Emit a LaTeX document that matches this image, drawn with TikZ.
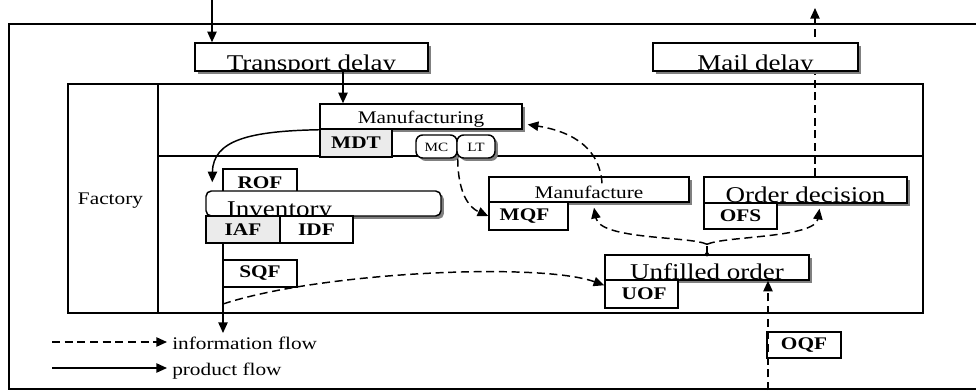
\documentclass[tikz,border=0pt]{standalone}
\usepackage{fontspec}
\setmainfont{Liberation Serif}[FakeStretch=1.2]
\usetikzlibrary{arrows.meta,fit,shadows,backgrounds}
\newcommand{\fBig}{\fontsize{16.9}{18}\selectfont}
\newcommand{\fMed}{\fontsize{13.3}{15}\selectfont}
\newcommand{\fLbl}{\fontsize{13.3}{15}\selectfont\bfseries}
\newcommand{\fSml}{\fontsize{9.5}{10}\selectfont}
\begin{document}
\begin{tikzpicture}[x=0.75pt,y=-0.75pt,
  every node/.style={inner sep=0pt},
  bx/.style={draw, line width=1.1pt, fill=white},
  shd/.style={drop shadow={shadow xshift=2.2pt, shadow yshift=-2.2pt, fill=black!50, opacity=1}},
  dotbox/.style={fill=black!8},
  frame/.style={line width=1.1pt},
  prod/.style={line width=1.1pt, -{Triangle[length=8pt,width=7pt]}},
  info/.style={prod, dash pattern=on 6pt off 3.5pt},
  lbl/.style={font=\fLbl},
  cliptxt/.style={font=\fBig, anchor=base, text depth=0pt},
]
\useasboundingbox (0,0) rectangle (976,390);

% outer frame
\draw[frame] (976,24) -- (9,24) -- (9,389) -- (976,389);

% factory frame
\node[draw, frame, fit={(68,84) (923,313)}] (fac) {};
\coordinate (colx) at (158,156);
\draw[frame] (colx |- fac.north) -- (colx |- fac.south);
\draw[frame] (colx) -- (colx -| fac.east);
\node[font=\fMed, anchor=base] (factxt) at (110.5,204) {Factory};

% delay boxes
\node[bx, shd, fit={(195,43) (428,71)}] (td) {};
\begin{scope}
  \clip (td.south west) rectangle (td.north east);
  \node[cliptxt] (tdt) at ([yshift=1pt]td.south) {Transport delay};
\end{scope}
\node[bx, shd, fit={(653,43) (858,71)}] (md) {};
\begin{scope}
  \clip (md.south west) rectangle (md.north east);
  \node[cliptxt] (mdt2) at ([yshift=1pt]md.south) {Mail delay};
\end{scope}

% manufacturing
\node[bx, shd, fit={(320,104) (522,129)}] (mfg) {};
\node[font=\fMed, anchor=base] (mfgt) at ([yshift=4.5pt]mfg.south) {Manufacturing};
\node[bx, dotbox, fit={(320,129) (392,157)}] (mdt) {};
\node[lbl] (mdtT) at (mdt.center) {MDT};
\node[bx, shd, rounded corners=5pt, fit={(416,135) (457,158)}] (mc) {};
\node[font=\fSml] (mcT) at ([yshift=-1pt]mc.center) {MC};
\node[bx, shd, rounded corners=5pt, fit={(457,135) (495,158)}] (lt) {};
\node[font=\fSml] (ltT) at ([yshift=-1pt]lt.center) {LT};

% inventory
\node[bx, fit={(223,169) (297,193)}] (rof) {};
\node[lbl] (rofT) at ([yshift=-1pt]rof.center) {ROF};
\node[bx, shd, rounded corners=4pt, fit={(206,191) (441,216)}] (inv) {};
\begin{scope}
  \clip (inv.south west) rectangle (inv.north east);
  \node[cliptxt] (invt) at ([xshift=-33pt, yshift=0.5pt]inv.south) {Inventory};
\end{scope}
\node[bx, dotbox, fit={(206,216) (280,243)}] (iaf) {};
\node[lbl] (iafT) at (iaf.center) {IAF};
\node[bx, fit={(280,216) (353,243)}] (idf) {};
\node[lbl] (idfT) at (idf.center) {IDF};
\node[bx, fit={(223,260) (297,287)}] (sqf) {};
\node[lbl] (sqfT) at (sqf.center) {SQF};

% manufacture
\node[bx, shd, fit={(489,177) (689,202)}] (mfr) {};
\node[font=\fMed, anchor=base] (mfrt) at ([yshift=3pt]mfr.south) {Manufacture};
\node[bx, fit={(489,202) (568,230)}] (mqf) {};
\node[lbl] (mqfT) at ([xshift=-3pt]mqf.center) {MQF};

% order decision
\node[bx, shd, fit={(704,177) (907,203)}] (od) {};
\begin{scope}
  \clip (od.south west) rectangle (od.north east);
  \node[cliptxt] (odt) at ([yshift=1pt]od.south) {Order decision};
\end{scope}
\node[bx, fit={(704,203) (777,229)}] (ofs) {};
\node[lbl] (ofsT) at (ofs.center) {OFS};

% unfilled order
\node[bx, shd, fit={(605,255) (809,280)}] (uo) {};
\begin{scope}
  \clip (uo.south west) rectangle (uo.north east);
  \node[cliptxt] (uot) at ([yshift=1pt]uo.south) {Unfilled order};
\end{scope}
\node[bx, fit={(605,280) (678,308)}] (uof) {};
\node[lbl] (uofT) at ([xshift=2pt]uof.center) {UOF};
\node[bx, fit={(767,332) (841,358)}] (oqf) {};
\node[lbl] (oqfT) at (oqf.center) {OQF};

% connectors
\coordinate (mtop) at (815,8);
\begin{pgfonlayer}{background}
  \draw[info] (mtop |- od.north) -- (mtop);
\end{pgfonlayer}

\coordinate (tin) at (212,0);
\draw[prod] (tin) -- (tin |- td.north);
\coordinate (tx) at (343,0);
\draw[prod] (tx |- td.south) -- (tx |- mfg.north);
\draw[prod] (mfg.south west) .. controls (250,131) and (213,140) .. ([shift={(7,-8)}]inv.north west);
\coordinate (pout) at (223,333);
\draw[prod] (pout |- iaf.south) -- (pout);
\coordinate (split) at (223,304);
\draw[info] (split) .. controls (320,272) and (540,262) .. ([shift={(0,6)}]uof.north west);
\draw[info] (mc.south east) .. controls (458,195) and (470,208) .. (mqf.west);
\draw[info] ([shift={(13,7)}]mfr.north) .. controls (600,150) and (575,132) .. ([shift={(5,8)}]mfg.east);
\coordinate (fork) at ([yshift=7.5pt]uo.north);
\draw[info, -] (uo.north) -- (fork);
\draw[info] (fork) .. controls (690,236) and (600,240) .. ([shift={(5,5)}]mfr.south);
\draw[info] (fork) .. controls (725,236) and (815,238) .. ([shift={(14,5)}]od.south);
\fill (uo.north) circle (1.6pt);
\coordinate (oin) at (768,390);
\draw[info] (oin) -- (oin |- uo.south);

% legend
\coordinate (l1a) at (52,342);
\coordinate (l1b) at (167,342);
\draw[info] (l1a) -- (l1b);
\node[font=\fMed, anchor=base west] (l1t) at (172,349) {information flow};
\coordinate (l2a) at (52,368);
\coordinate (l2b) at (167,368);
\draw[prod] (l2a) -- (l2b);
\node[font=\fMed, anchor=base west] (l2t) at (172,375) {product flow};
\end{tikzpicture}
\end{document}
